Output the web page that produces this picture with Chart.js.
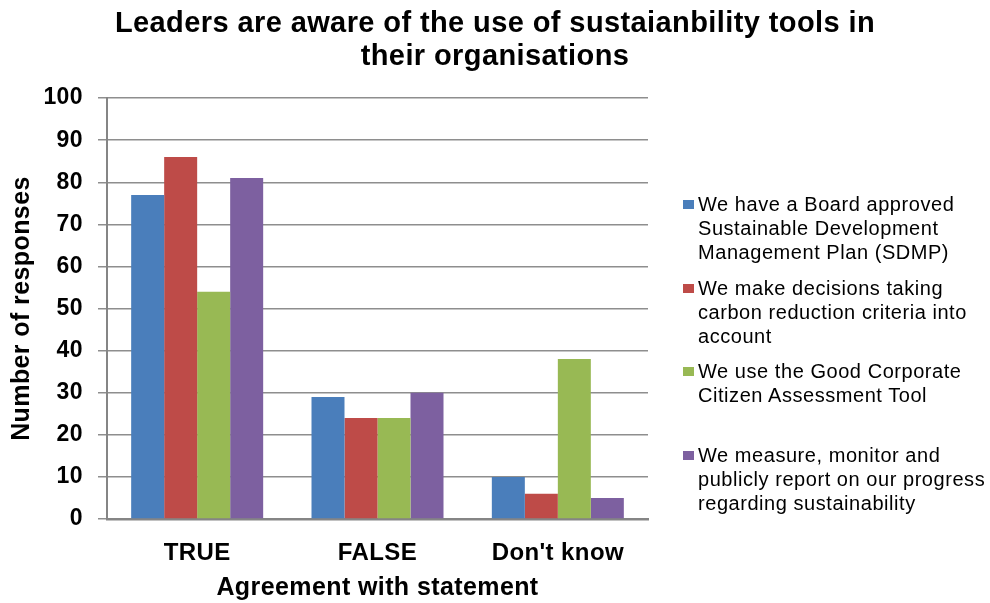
<!DOCTYPE html>
<html>
<head>
<meta charset="utf-8">
<script src="https://cdn.jsdelivr.net/npm/chart.js@4.4.0/dist/chart.umd.min.js"></script>
<style>
  html, body { margin: 0; padding: 0; background: #fff; }
  #wrap { position: relative; width: 990px; height: 603px; }
  #legend { position: absolute; left: 683px; top: 0; font-family: "Liberation Sans", Arial, sans-serif; font-size: 20px; letter-spacing: 0.55px; color: #000; }
  .item { position: absolute; left: 0; width: 307px; }
  .box { position: absolute; left: 0; top: 8px; width: 11px; height: 9px; }
  .txt { position: absolute; left: 15px; top: 0; line-height: 24px; white-space: nowrap; }
</style>
</head>
<body>
<div id="wrap">
  <canvas id="chart" width="990" height="603"></canvas>
  <div id="legend"></div>
</div>
<script>
// DATOS
const categories = ["TRUE", "FALSE", "Don't know"];
const seriesNames = [
  ["We have a Board approved", "Sustainable Development", "Management Plan (SDMP)"],
  ["We make decisions taking", "carbon reduction criteria into", "account"],
  ["We use the Good Corporate", "Citizen Assessment Tool"],
  ["We measure, monitor and", "publicly report on our progress", "regarding sustainability"]
];
const boardPlan = [77, 29, 10];
const carbonCriteria = [86, 24, 6];
const goodCorporate = [54, 24, 38];
const publicReport = [81, 30, 5];
const yMin = 0, yMax = 100, yStep = 10;

const colors = ["#4A7EBB", "#BE4B48", "#98B954", "#7D60A0"];
const FONT = '"Liberation Sans", Arial, sans-serif';

Chart.defaults.font.family = FONT;
Chart.defaults.color = "#000";

// espaçamento de letras parecido com o Excel
const spacingPlugin = {
  id: "spacing",
  beforeDraw(chart) { chart.ctx.letterSpacing = "0.4px"; }
};

const chart = new Chart(document.getElementById("chart"), {
  type: "bar",
  data: {
    labels: categories,
    datasets: [boardPlan, carbonCriteria, goodCorporate, publicReport].map((d, i) => ({
      label: seriesNames[i].join(" "),
      data: d,
      backgroundColor: colors[i],
      categoryPercentage: 0.732,
      barPercentage: 1
    }))
  },
  options: {
    responsive: false,
    animation: false,
    layout: { padding: 0 },
    plugins: {
      legend: { display: false },
      tooltip: { enabled: false },
      title: {
        display: true,
        text: ["Leaders are aware of the use of sustaianbility tools in", "their organisations"],
        color: "#000",
        font: { size: 29, weight: "bold", lineHeight: 1.14 },
        padding: { top: 7, bottom: 25 }
      }
    },
    scales: {
      x: {
        grid: { display: false, drawTicks: false },
        border: { color: "#858585", width: 2.5 },
        ticks: { color: "#000", font: { size: 24, weight: "bold" }, padding: 20 },
        title: {
          display: true, text: "Agreement with statement", color: "#000",
          font: { size: 25, weight: "bold" }, padding: { top: 0, bottom: 0 }
        },
        afterFit(s) { s.height = 84; }
      },
      y: {
        min: yMin, max: yMax,
        grid: { color: "#8e8e8e", lineWidth: 1.5, tickLength: 9 },
        border: { color: "#858585", width: 2 },
        ticks: { stepSize: yStep, color: "#000", font: { size: 23, weight: "bold" }, padding: 15 },
        title: {
          display: true, text: "Number of responses", color: "#000",
          font: { size: 25, weight: "bold" }, padding: { top: 7, bottom: 0 }
        },
        afterFit(s) { s.width = 107; }
      },
      // eixo vazio à direita, reserva o espaço da legenda
      side: {
        type: "linear", position: "right", display: true,
        grid: { display: false }, border: { display: false },
        ticks: { display: false },
        afterFit(s) { s.width = 342; }
      }
    }
  },
  plugins: [spacingPlugin]
});

// Legenda em HTML (textos em várias linhas)
const legend = document.getElementById("legend");
chart.data.datasets.forEach((ds, i) => {
  const item = document.createElement("div");
  item.className = "item";
  item.style.top = (192 + i * 83.7) + "px";
  item.innerHTML = `<div class="box" style="background:${ds.backgroundColor}"></div>
    <div class="txt">${seriesNames[i].join("<br>")}</div>`;
  legend.appendChild(item);
});
</script>
</body>
</html>
